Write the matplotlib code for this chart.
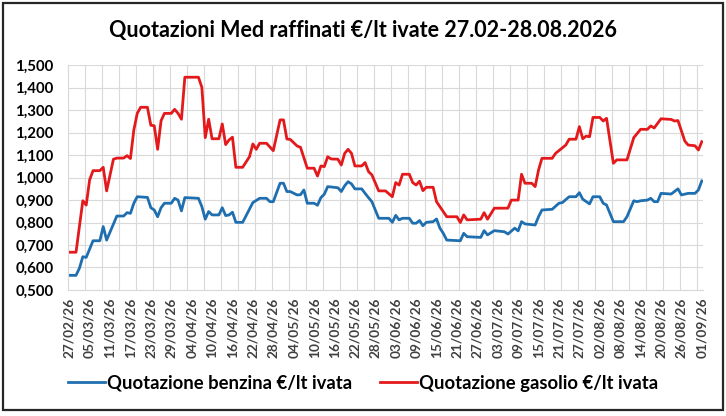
import matplotlib
matplotlib.use("Agg")
import matplotlib.pyplot as plt
from matplotlib.ticker import FixedLocator, MultipleLocator, FuncFormatter
from matplotlib.patches import Rectangle

plt.rcParams['font.family'] = ['Lato', 'DejaVu Sans']

# ------------------------------------------------------------
# DATA (day index from 27/02/26, value in euro per litre)
# ------------------------------------------------------------
TITLE = "Quotazioni Med raffinati €/lt ivate 27.02-28.08.2026"

tick_labels = [
    "27/02/26", "05/03/26", "11/03/26", "17/03/26", "23/03/26", "29/03/26",
    "04/04/26", "10/04/26", "16/04/26", "22/04/26", "28/04/26", "04/05/26",
    "10/05/26", "16/05/26", "22/05/26", "28/05/26", "03/06/26", "09/06/26",
    "15/06/26", "21/06/26", "27/06/26", "03/07/26", "09/07/26", "15/07/26",
    "21/07/26", "27/07/26", "02/08/26", "08/08/26", "14/08/26", "20/08/26",
    "26/08/26", "01/09/26",
]
tick_days = [6 * i for i in range(len(tick_labels))]

benzina_days = [
    0, 2, 3, 4, 5, 7, 9, 10, 11, 14, 16, 17, 18, 19, 20, 23, 24, 25, 26, 27,
    28, 30, 31, 32, 33, 34, 38, 39, 40, 41, 42, 44, 45, 46, 47, 48, 49, 51,
    54, 56, 58, 59, 60, 62, 63, 64, 65, 67, 68, 69, 70, 72, 73, 74, 75, 76,
    79, 80, 81, 82, 83, 84, 86, 87, 88, 89, 91, 94, 95, 96, 97, 98, 100, 101,
    102, 103, 104, 105, 107, 108, 109, 110, 111, 115, 116, 117, 121, 122, 123,
    125, 128, 129, 131, 132, 133, 134, 137, 138, 139, 142, 144, 145, 147, 149,
    150, 151, 153, 154, 156, 157, 158, 160, 163, 164, 166, 167, 168, 170, 171,
    172, 173, 174, 177, 179, 180, 182, 184, 185, 186,
]
benzina_vals = [
    0.565, 0.565, 0.597, 0.648, 0.645, 0.719, 0.719, 0.782, 0.722, 0.829,
    0.829, 0.844, 0.841, 0.886, 0.915, 0.912, 0.866, 0.856, 0.826, 0.866,
    0.886, 0.886, 0.908, 0.900, 0.852, 0.911, 0.908, 0.871, 0.815, 0.849,
    0.834, 0.834, 0.866, 0.831, 0.834, 0.846, 0.801, 0.801, 0.889, 0.908,
    0.908, 0.893, 0.893, 0.975, 0.975, 0.938, 0.938, 0.923, 0.924, 0.945,
    0.886, 0.886, 0.877, 0.911, 0.926, 0.960, 0.955, 0.938, 0.964, 0.982,
    0.972, 0.950, 0.950, 0.930, 0.911, 0.893, 0.819, 0.819, 0.801, 0.832,
    0.812, 0.819, 0.819, 0.797, 0.797, 0.809, 0.786, 0.801, 0.804, 0.816,
    0.775, 0.752, 0.722, 0.719, 0.752, 0.737, 0.734, 0.764, 0.745, 0.764,
    0.759, 0.749, 0.775, 0.763, 0.804, 0.794, 0.789, 0.826, 0.856, 0.859,
    0.886, 0.889, 0.915, 0.915, 0.933, 0.904, 0.883, 0.915, 0.915, 0.886,
    0.878, 0.804, 0.804, 0.826, 0.897, 0.893, 0.897, 0.900, 0.908, 0.893,
    0.893, 0.930, 0.927, 0.950, 0.923, 0.930, 0.930, 0.945, 0.985,
]

gasolio_days = [
    0, 2, 4, 5, 6, 7, 9, 10, 11, 12, 13, 14, 16, 17, 18, 19, 20, 21, 23, 24,
    25, 26, 27, 28, 30, 31, 32, 33, 34, 38, 39, 40, 41, 42, 44, 45, 46, 47,
    48, 49, 51, 53, 54, 55, 56, 58, 60, 62, 63, 64, 65, 67, 68, 70, 72, 73,
    74, 75, 76, 77, 79, 80, 81, 82, 83, 84, 86, 87, 88, 89, 91, 93, 95, 96,
    97, 98, 100, 101, 102, 103, 104, 105, 107, 108, 111, 114, 115, 116, 117,
    121, 122, 123, 125, 129, 130, 132, 133, 134, 136, 137, 138, 139, 142, 143,
    146, 147, 149, 150, 151, 152, 153, 154, 156, 157, 158, 160, 161, 164, 166,
    168, 170, 171, 172, 174, 177, 178, 179, 181, 182, 184, 185, 186,
]
gasolio_vals = [
    0.668, 0.668, 0.897, 0.878, 0.990, 1.031, 1.031, 1.046, 0.941, 1.012,
    1.082, 1.087, 1.087, 1.098, 1.085, 1.212, 1.286, 1.313, 1.313, 1.233,
    1.231, 1.126, 1.253, 1.286, 1.286, 1.304, 1.286, 1.260, 1.447, 1.447,
    1.402, 1.178, 1.260, 1.173, 1.173, 1.239, 1.147, 1.168, 1.180, 1.046,
    1.046, 1.093, 1.150, 1.126, 1.153, 1.153, 1.120, 1.257, 1.257, 1.172,
    1.170, 1.141, 1.135, 1.042, 1.042, 1.007, 1.052, 1.049, 1.093, 1.083,
    1.082, 1.056, 1.108, 1.126, 1.108, 1.052, 1.052, 1.067, 1.027, 1.012,
    0.941, 0.941, 0.915, 0.978, 0.967, 1.015, 1.015, 0.978, 0.967, 0.984,
    0.942, 0.957, 0.957, 0.893, 0.826, 0.826, 0.800, 0.834, 0.812, 0.815,
    0.844, 0.815, 0.864, 0.864, 0.900, 0.900, 1.015, 0.975, 0.975, 0.960,
    1.034, 1.086, 1.086, 1.108, 1.145, 1.171, 1.171, 1.227, 1.173, 1.185,
    1.182, 1.268, 1.268, 1.252, 1.264, 1.064, 1.079, 1.079, 1.178, 1.215,
    1.215, 1.230, 1.221, 1.262, 1.259, 1.252, 1.254, 1.163, 1.145, 1.142,
    1.123, 1.160,
]

BLUE = '#1f6fb0'
RED = '#e3191c'

# ------------------------------------------------------------
# PLOT
# ------------------------------------------------------------
fig = plt.figure(figsize=(7.26, 4.16), dpi=100)
ax = fig.add_axes([0.093, 0.303, 0.876, 0.540])

ax.plot(benzina_days, benzina_vals, color=BLUE, linewidth=2.0,
        label='Quotazione benzina €/lt ivata', solid_joinstyle='round')
ax.plot(gasolio_days, gasolio_vals, color=RED, linewidth=2.0,
        label='Quotazione gasolio €/lt ivata', solid_joinstyle='round')

ax.set_xlim(-0.5, 186.5)
ax.set_ylim(0.5, 1.5)

ax.xaxis.set_major_locator(FixedLocator(tick_days))
ax.set_xticklabels(tick_labels, rotation=90, fontsize=9.8, fontweight='bold',
                   color='#404040')
ax.xaxis.set_minor_locator(MultipleLocator(5, offset=-0.5))
ax.yaxis.set_major_locator(MultipleLocator(0.1))
ax.yaxis.set_major_formatter(FuncFormatter(lambda v, p: f"{v:.3f}".replace('.', ',')))
for lab in ax.get_yticklabels():
    lab.set_fontweight('bold')
    lab.set_fontsize(10.8)

ax.tick_params(axis='both', which='both', length=0)
ax.tick_params(axis='x', pad=5.5)
ax.tick_params(axis='y', pad=10)

ax.grid(which='minor', axis='x', color='#d9d9d9', linewidth=0.8)
ax.grid(which='major', axis='y', color='#d9d9d9', linewidth=0.8)
ax.set_axisbelow(True)
for s in ['top', 'right']:
    ax.spines[s].set_visible(False)
for s in ['left', 'bottom']:
    ax.spines[s].set_color('#d9d9d9')
    ax.spines[s].set_linewidth(0.8)

fig.text(0.5, 0.927, TITLE, ha='center', va='center', fontsize=15.5,
         fontweight='bold', color='black')

fig.legend(loc='center', bbox_to_anchor=(0.5, 0.079), ncol=2, frameon=False,
           prop={'weight': 'bold', 'size': 13.3}, handlelength=2.0,
           handletextpad=0.1, columnspacing=1.5)

fig.patches.append(Rectangle((0.004, 0.0144), 0.9917, 0.978, transform=fig.transFigure,
                             fill=False, edgecolor='#262626', linewidth=1.6))

fig.savefig('out.png', dpi=100)
